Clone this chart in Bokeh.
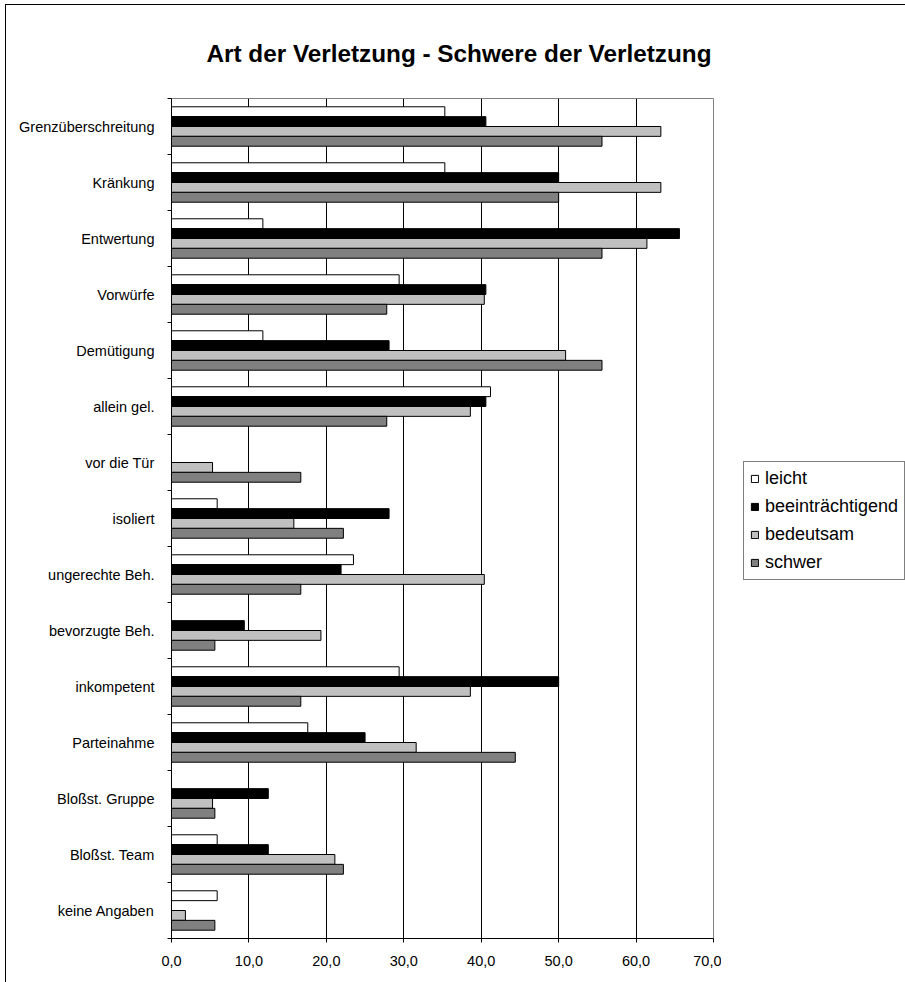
from bokeh.plotting import figure
from bokeh.layouts import row
from bokeh.models import (ColumnDataSource, FixedTicker, Legend, LegendItem, Range1d)
from bokeh.transform import dodge
from bokeh.embed import file_html
from bokeh.resources import INLINE

categories = ["Grenzüberschreitung", "Kränkung", "Entwertung", "Vorwürfe", "Demütigung",
              "allein gel.", "vor die Tür", "isoliert", "ungerechte Beh.", "bevorzugte Beh.",
              "inkompetent", "Parteinahme", "Bloßst. Gruppe", "Bloßst. Team", "keine Angaben"]
leicht = [35.3, 35.3, 11.8, 29.4, 11.8, 41.2, 0.0, 5.9, 23.5, 0.0, 29.4, 17.6, 0.0, 5.9, 5.9]
beeintraechtigend = [40.6, 50.0, 65.6, 40.6, 28.1, 40.6, 0.0, 28.1, 21.9, 9.4, 50.0, 25.0, 12.5, 12.5, 0.0]
bedeutsam = [63.2, 63.2, 61.4, 40.4, 50.9, 38.6, 5.3, 15.8, 40.4, 19.3, 38.6, 31.6, 5.3, 21.1, 1.8]
schwer = [55.6, 50.0, 55.6, 27.8, 55.6, 27.8, 16.7, 22.2, 16.7, 5.6, 16.7, 44.4, 5.6, 22.2, 5.6]
series_names = ["leicht", "beeinträchtigend", "bedeutsam", "schwer"]
x_ticks = [0, 10, 20, 30, 40, 50, 60, 70]
x_tick_labels = ["0,0", "10,0", "20,0", "30,0", "40,0", "50,0", "60,0", "70,0"]

colors = ["#FFFFFF", "#000000", "#C0C0C0", "#808080"]
FONT = "Liberation Sans"

n = len(categories)
ycent = [n - i - 0.5 for i in range(n)]
src = ColumnDataSource(dict(y=ycent, cat=categories, s0=leicht, s1=beeintraechtigend,
                            s2=bedeutsam, s3=schwer))

# ---- main chart ----
p = figure(width=715, height=977, output_backend="svg", toolbar_location=None,
           x_range=Range1d(0, 70), y_range=Range1d(0, n),
           min_border_left=165, min_border_right=8, min_border_top=93, min_border_bottom=44)
p.background_fill_color = "white"
p.border_fill_color = "white"
p.outline_line_color = "#808080"
p.outline_line_width = 1

p.title.text = "Art der Verletzung - Schwere der Verletzung"
p.title.text_font = FONT
p.title.text_font_size = "24.3px"
p.title.text_font_style = "bold"
p.title.text_color = "black"
p.title.align = "left"
p.title.offset = 35
p.title.standoff = 60
p.title.vertical_align = "top"

h = 0.176
offsets = [1.5 * h, 0.5 * h, -0.5 * h, -1.5 * h]
for k, col in enumerate(colors):
    p.hbar(y=dodge("y", offsets[k], range=p.y_range), right="s%d" % k, left=0,
           height=h, source=src, fill_color=col, line_color="black", line_width=1)

xa = p.xaxis[0]
xa.ticker = FixedTicker(ticks=x_ticks)
xa.major_label_overrides = {t: l for t, l in zip(x_ticks, x_tick_labels)}
xa.major_label_text_font = FONT
xa.major_label_text_font_size = "14.5px"
xa.major_label_text_color = "black"
xa.major_tick_out = 4
xa.major_tick_in = 0
xa.minor_tick_line_color = None
xa.axis_line_color = "black"
xa.major_tick_line_color = "black"
xa.major_label_standoff = 13

ya = p.yaxis[0]
ya.ticker = FixedTicker(ticks=ycent, minor_ticks=list(range(0, n + 1)))
ya.major_label_overrides = {y: c for y, c in zip(ycent, categories)}
ya.major_label_text_font = FONT
ya.major_label_text_font_size = "14.5px"
ya.major_label_text_color = "black"
ya.major_tick_line_color = None
ya.major_tick_out = 0
ya.major_tick_in = 0
ya.minor_tick_out = 4
ya.minor_tick_in = 0
ya.minor_tick_line_color = "black"
ya.axis_line_color = "black"
ya.major_label_standoff = 13

p.xgrid.grid_line_color = "black"
p.xgrid.grid_line_alpha = 1.0
p.ygrid.grid_line_color = None

# ---- legend panel ----
p2 = figure(width=184, height=977, output_backend="svg", toolbar_location=None,
            x_range=Range1d(0, 1), y_range=Range1d(0, 1),
            x_axis_location=None, y_axis_location=None,
            min_border_left=0, min_border_right=0, min_border_top=0, min_border_bottom=0)
p2.outline_line_color = None
p2.xgrid.grid_line_color = None
p2.ygrid.grid_line_color = None
p2.background_fill_color = "white"
p2.border_fill_color = "white"
leg_renderers = []
for k, col in enumerate(colors):
    r = p2.hbar(y="y", right="s%d" % k, left=0, height=h, source=src,
                fill_color=col, line_color="black", line_width=1, visible=False)
    leg_renderers.append(r)

legend = Legend(items=[LegendItem(label=nm, renderers=[r]) for nm, r in zip(series_names, leg_renderers)],
                location=(22, 358), orientation="vertical")
legend.label_text_font = FONT
legend.label_text_font_size = "18px"
legend.label_text_color = "black"
legend.glyph_width = 9
legend.glyph_height = 9
legend.label_standoff = 6
legend.label_height = 18
legend.spacing = 7
legend.padding = 6
legend.margin = 0
legend.border_line_color = "black"
legend.border_line_width = 1
legend.background_fill_color = "white"
legend.background_fill_alpha = 1.0
p2.add_layout(legend, "center")

layout = row(p, p2, spacing=0,
             styles={"margin-left": "5px", "margin-top": "4px",
                     "border-left": "1px solid #000", "border-top": "1px solid #000"})

open("out.html", "w").write(file_html(layout, INLINE))
